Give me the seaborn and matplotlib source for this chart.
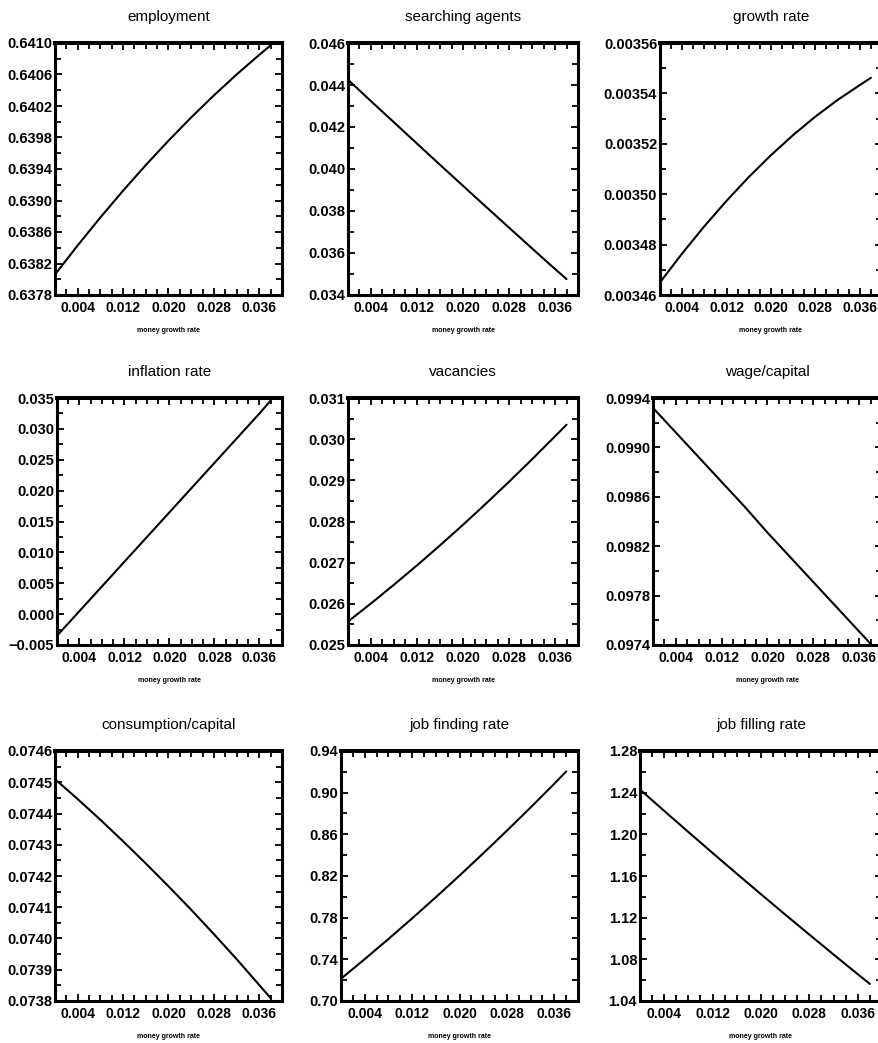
import numpy as np
import pandas as pd
import matplotlib
matplotlib.use("Agg")
import matplotlib.pyplot as plt
import matplotlib.ticker as mticker
import seaborn as sns

# money growth rate grid (x axis of every panel)
money_growth = [0.000, 0.004, 0.008, 0.012, 0.016, 0.020, 0.024, 0.028, 0.032, 0.036, 0.038]

# series
employment = [0.63806, 0.63843, 0.638785, 0.639125, 0.63945, 0.63976, 0.640055, 0.640335, 0.64060, 0.64085, 0.64097]
searching_agents = [0.04425, 0.04323, 0.04222, 0.04121, 0.04020, 0.03920, 0.03820, 0.03721, 0.03622, 0.03524, 0.03476]
growth_rate = [0.0034650, 0.0034765, 0.0034873, 0.0034974, 0.0035068, 0.0035155, 0.0035235, 0.0035308, 0.0035374, 0.0035433, 0.0035462]
inflation_rate = [-0.0035, 0.0005, 0.0045, 0.0085, 0.0125, 0.0165, 0.0205, 0.0245, 0.0285, 0.0325, 0.0346]
vacancies = [0.02557, 0.02601, 0.026465, 0.026935, 0.02742, 0.02792, 0.028435, 0.028965, 0.02951, 0.03007, 0.03035]
wage_capital = [0.09932, 0.09912, 0.09892, 0.09872, 0.09852, 0.09831, 0.09811, 0.09791, 0.09771, 0.09751, 0.09741]
consumption_capital = [0.07451, 0.074446, 0.07438, 0.074311, 0.07424, 0.074167, 0.074092, 0.074014, 0.073934, 0.073851, 0.073809]
job_finding = [0.7214, 0.7402, 0.7595, 0.7793, 0.7996, 0.8204, 0.8417, 0.8635, 0.8858, 0.9086, 0.9203]
job_filling = [1.2430, 1.2225, 1.2022, 1.1821, 1.1622, 1.1425, 1.1230, 1.1037, 1.0846, 1.0657, 1.0564]

titles = ["employment", "searching agents", "growth rate",
          "inflation rate", "vacancies", "wage/capital",
          "consumption/capital", "job finding rate", "job filling rate"]
series = [employment, searching_agents, growth_rate,
          inflation_rate, vacancies, wage_capital,
          consumption_capital, job_finding, job_filling]
# y range, number of labelled ticks, label format
y_ranges = [(0.6378, 0.6410), (0.034, 0.046), (0.00346, 0.00356),
            (-0.005, 0.035), (0.025, 0.031), (0.0974, 0.0994),
            (0.0738, 0.0746), (0.70, 0.94), (1.04, 1.28)]
y_nticks = [9, 7, 6, 9, 7, 6, 9, 7, 7]
y_fmt = ["%.4f", "%.3f", "%.5f", "%.3f", "%.3f", "%.4f", "%.4f", "%.2f", "%.2f"]
x_ticks = [0.004, 0.012, 0.020, 0.028, 0.036]

sns.set_style("ticks")
plt.rcParams["font.family"] = ["Liberation Sans", "DejaVu Sans"]
for key in ["text.color", "axes.labelcolor", "xtick.color", "ytick.color", "axes.edgecolor"]:
    plt.rcParams[key] = "black"

W, H = 879, 1043
fig = plt.figure(figsize=(W / 100, H / 100), dpi=100)

# panel boxes in pixels: row top/bottom, per-panel left, column right
rows = [(43, 295), (398, 645), (751, 1001)]
lefts = [[55, 348, 660], [57, 348, 653], [55, 341, 640]]
rights = [282, 578, 882]

for i in range(9):
    r, c = divmod(i, 3)
    top, bot = rows[r]
    l, rr = lefts[r][c], rights[c]
    ax = fig.add_axes([l / W, 1 - bot / H, (rr - l) / W, (bot - top) / H])

    df = pd.DataFrame({"x": money_growth, "y": series[i]})
    sns.lineplot(data=df, x="x", y="y", ax=ax, color="black", linewidth=1.5)

    lo, hi = y_ranges[i]
    ax.set_xlim(0.0, 0.040)
    ax.set_ylim(lo, hi)
    ax.xaxis.set_major_locator(mticker.FixedLocator(x_ticks))
    ax.xaxis.set_minor_locator(mticker.MultipleLocator(0.002))
    ax.yaxis.set_major_locator(mticker.FixedLocator(np.linspace(lo, hi, y_nticks[i])))
    ax.yaxis.set_minor_locator(mticker.FixedLocator(np.linspace(lo, hi, 2 * y_nticks[i] - 1)))
    ax.xaxis.set_major_formatter(mticker.FormatStrFormatter("%.3f"))
    f = y_fmt[i]
    ax.yaxis.set_major_formatter(mticker.FuncFormatter(lambda v, p, f=f: (f % v).replace("-", "\u2212")))

    ax.tick_params(which="both", direction="in", top=True, right=True, width=1.3, color="black")
    ax.tick_params(which="major", length=5)
    ax.tick_params(which="minor", length=4)
    ax.tick_params(axis="y", labelsize=10.5, pad=2)
    ax.tick_params(axis="x", pad=4)
    for lab in ax.get_yticklabels():
        lab.set_fontweight("bold")
    for lab in ax.get_xticklabels():
        lab.set_family(["Liberation Sans Narrow", "Liberation Sans"])
        lab.set_fontweight("bold")
        lab.set_fontsize(10)

    for side in ["left", "right", "bottom"]:
        ax.spines[side].set_linewidth(2.2)
        ax.spines[side].set_color("black")
    ax.spines["top"].set_linewidth(2.9)
    ax.spines["top"].set_color("black")

    ax.set_title(titles[i], fontsize=11, pad=16)
    ax.set_xlabel("money growth rate", fontsize=5, fontweight="bold", labelpad=9)
    ax.set_ylabel("")

fig.savefig("out.png", dpi=100)
